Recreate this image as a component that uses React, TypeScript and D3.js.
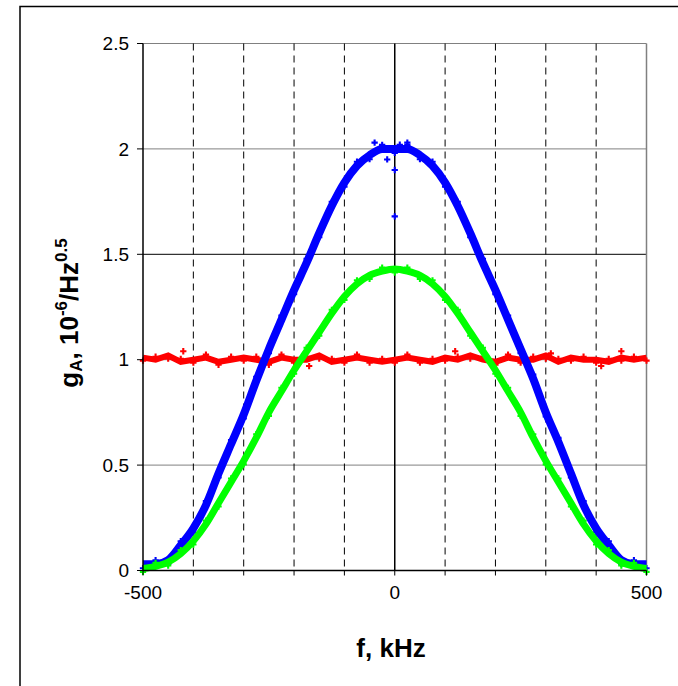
import React from "react";
import * as d3 from "d3";

const freqs = [-500,-475,-450,-425,-400,-375,-350,-325,-300,-275,-250,-225,-200,-175,-150,-125,-100,-75,-50,-25,0,25,50,75,100,125,150,175,200,225,250,275,300,325,350,375,400,425,450,475,500];
const blueValues = [0.03,0.03,0.05,0.12,0.20,0.31,0.46,0.60,0.74,0.90,1.05,1.19,1.33,1.46,1.60,1.73,1.84,1.92,1.97,2.00,2.00,2.00,1.97,1.92,1.84,1.73,1.60,1.46,1.33,1.19,1.05,0.91,0.75,0.61,0.46,0.31,0.20,0.12,0.05,0.03,0.03];
const greenValues = [0.01,0.02,0.04,0.08,0.14,0.22,0.32,0.42,0.52,0.63,0.75,0.85,0.95,1.04,1.13,1.22,1.30,1.36,1.40,1.42,1.43,1.42,1.40,1.36,1.30,1.22,1.13,1.04,0.95,0.85,0.75,0.63,0.52,0.42,0.32,0.22,0.14,0.08,0.04,0.02,0.01];
const redValues = [1.01,1.00,1.02,0.99,1.00,1.01,0.99,1.00,1.01,1.00,0.99,1.01,1.00,1.00,1.02,0.99,1.00,1.01,1.00,0.99,1.00,1.01,1.00,0.99,1.01,1.00,1.02,1.00,0.99,1.01,1.00,1.00,1.02,0.99,1.01,1.00,1.00,0.99,1.01,1.00,1.01];
const blueOutF = [0, 0, -40, 25, -15, 10];
const blueOutV = [1.68, 1.90, 2.03, 2.03, 1.95, 2.02];
const redOutF = [-420, -170, 120, 310, 410, 450];
const redOutV = [1.04, 0.97, 1.04, 1.03, 0.97, 1.04];

const xTicks = [-500,-400,-300,-200,-100,0,100,200,300,400,500];
const xLabels = [-500, 0, 500];
const yTicks = [0, 0.5, 1, 1.5, 2, 2.5];

const W = 678, H = 686;
const L = 143, R = 646.5, T = 43.5, B = 570.5;

export default function App() {
  const x = d3.scaleLinear().domain([-500, 500]).range([L, R]);
  const y = d3.scaleLinear().domain([0, 2.5]).range([B, T]);
  const line = (vals: number[], curve: any) =>
    d3.line<number>().x((_, i) => x(freqs[i])).y((v) => y(v)).curve(curve)(vals) || "";
  const cross = d3.symbol().type(d3.symbolCross).size(22)() || "";
  const series = [
    { vals: redValues, color: "#ff0000", w: 6, curve: d3.curveLinear, of: redOutF, ov: redOutV },
    { vals: blueValues, color: "#0000ff", w: 8, curve: d3.curveMonotoneX, of: blueOutF, ov: blueOutV },
    { vals: greenValues, color: "#00ff00", w: 7, curve: d3.curveMonotoneX, of: [], ov: [] },
  ];
  const font = "'Liberation Sans', Arial, sans-serif";
  return (
    <svg width={W} height={H} style={{ position: "absolute", left: 0, top: 0, background: "#fff" }} fontFamily={font}>
      <rect x={20} y={6.5} width={800} height={800} fill="none" stroke="#000" strokeWidth={1.5} />
      {yTicks.map((t) => (
        <line key={"h" + t} x1={L} x2={R} y1={y(t)} y2={y(t)} stroke={t === 1.5 ? "#000" : "#808080"} strokeWidth={1} />
      ))}
      {xTicks.filter((t) => t !== -500 && t !== 500).map((t) => (
        <line key={"v" + t} x1={x(t)} x2={x(t)} y1={T} y2={B} stroke="#000" strokeWidth={t === 0 ? 1.5 : 1} strokeDasharray={t === 0 ? undefined : "7,5"} />
      ))}
      <line x1={R} x2={R} y1={T} y2={B + 5} stroke="#808080" strokeWidth={1.5} />
      {series.map((s, k) => (
        <g key={k}>
          <path d={line(s.vals, s.curve)} fill="none" stroke={s.color} strokeWidth={s.w} />
          {s.vals.map((v, i) => (
            <path key={i} d={cross} transform={`translate(${x(freqs[i])},${y(v) + ((i % 2) ? -s.w / 2 : s.w / 2)})`} fill={s.color} />
          ))}
          {s.of.map((f, i) => (
            <path key={"o" + i} d={cross} transform={`translate(${x(f)},${y(s.ov[i])})`} fill={s.color} />
          ))}
        </g>
      ))}
      <line x1={L} x2={L} y1={T} y2={B} stroke="#000" strokeWidth={1.5} />
      <line x1={L} x2={R} y1={B} y2={B} stroke="#000" strokeWidth={1.5} />
      {yTicks.map((t) => (
        <g key={"yt" + t}>
          <line x1={L - 6} x2={L} y1={y(t)} y2={y(t)} stroke="#000" />
          <text x={129} y={y(t)} dy="0.35em" textAnchor="end" fontSize={19}>{t}</text>
        </g>
      ))}
      {xTicks.map((t) => (
        <line key={"xt" + t} x1={x(t)} x2={x(t)} y1={B} y2={B + 5} stroke="#000" />
      ))}
      {xLabels.map((t) => (
        <text key={"xl" + t} x={x(t)} y={592} dy="0.35em" textAnchor="middle" fontSize={19}>{t}</text>
      ))}
      <text x={391} y={657} textAnchor="middle" fontSize={26} fontWeight="bold">f, kHz</text>
      <text transform="translate(78,313) rotate(-90)" textAnchor="middle" fontSize={26} fontWeight="bold">
        g<tspan fontSize={17} dy={4}>A</tspan><tspan dy={-4}>, 10</tspan>
        <tspan fontSize={17} dy={-11}>-6</tspan><tspan dy={11}>/Hz</tspan>
        <tspan fontSize={17} dy={-11}>0.5</tspan>
      </text>
    </svg>
  );
}
